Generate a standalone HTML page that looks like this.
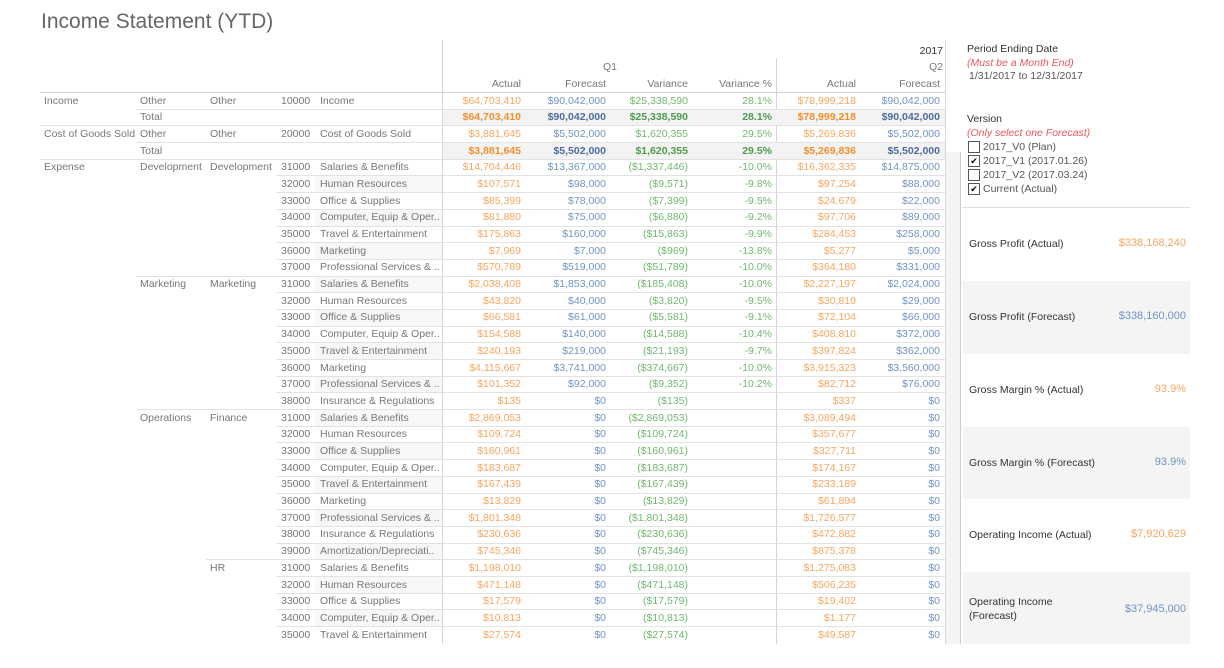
<!DOCTYPE html>
<html><head><meta charset="utf-8"><style>
body{margin:0;width:1224px;height:668px;background:#fff;font-family:"Liberation Sans",sans-serif;color:#777;overflow:hidden;position:relative}
.a{position:absolute;white-space:nowrap;font-size:10.5px;line-height:14px}
.r{text-align:right}
.hl{position:absolute;height:1px;background:#e2e2e2}
.vl{position:absolute;width:1px;background:#d6d6d6}
.or{color:#f5a661}.bl{color:#6f95c4}.gr{color:#72b86f}
.tot .or{color:#f28e2b}.tot .bl{color:#4c6c9e}.tot .gr{color:#4f9a4c}
.tot .r{font-weight:bold}
.card{position:absolute;left:963px;width:227px}
.cb{position:absolute;left:968px;width:10px;height:10px;border:1px solid #555;background:#fff;font-size:9px;line-height:10px;text-align:center;color:#000}
</style></head><body>
<div class="a" style="left:41px;top:8px;font-size:21px;line-height:28px;color:#666">Income Statement (YTD)</div>
<div class="vl" style="left:442px;top:40px;height:604px"></div>
<div class="vl" style="left:776px;top:58px;height:586px"></div>
<div class="vl" style="left:945px;top:40px;height:604px"></div>
<div class="vl" style="left:960px;top:152px;height:492px;background:#ccc"></div>
<div style="position:absolute;left:946px;top:152px;width:14px;height:492px;background:#f4f4f4"></div>
<div class="a r" style="left:880px;width:63px;top:44px;color:#333">2017</div>
<div class="a" style="left:603px;top:60px">Q1</div>
<div class="a r" style="left:900px;width:43px;top:60px">Q2</div>
<div id="tbl"></div>

<div class="a" style="left:967px;top:42px;color:#333">Period Ending Date</div>
<div class="a" style="left:967px;top:56px;color:#e8575f;font-style:italic">(Must be a Month End)</div>
<div class="a" style="left:969px;top:69px;color:#555">1/31/2017 to 12/31/2017</div>
<div class="a" style="left:967px;top:112px;color:#333">Version</div>
<div class="a" style="left:967px;top:126px;color:#e8575f;font-style:italic">(Only select one Forecast)</div>
<div class="cb" style="top:141px"></div><div class="a" style="left:983px;top:140px;color:#555">2017_V0 (Plan)</div>
<div class="cb" style="top:155px">✔</div><div class="a" style="left:983px;top:154px;color:#555">2017_V1 (2017.01.26)</div>
<div class="cb" style="top:169px"></div><div class="a" style="left:983px;top:168px;color:#555">2017_V2 (2017.03.24)</div>
<div class="cb" style="top:183px">✔</div><div class="a" style="left:983px;top:182px;color:#555">Current (Actual)</div>
<div class="hl" style="left:962px;top:207px;width:228px;background:#ddd"></div>
<div id="cards"></div>
<script>
const rows=[
["Income","Other","Other","10000","Income","$64,703,410","$90,042,000","$25,338,590","28.1%","$78,999,218","$90,042,000"],
["","Total","","","","$64,703,410","$90,042,000","$25,338,590","28.1%","$78,999,218","$90,042,000"],
["Cost of Goods Sold","Other","Other","20000","Cost of Goods Sold","$3,881,645","$5,502,000","$1,620,355","29.5%","$5,269,836","$5,502,000"],
["","Total","","","","$3,881,645","$5,502,000","$1,620,355","29.5%","$5,269,836","$5,502,000"],
["Expense","Development","Development","31000","Salaries & Benefits","$14,704,446","$13,367,000","($1,337,446)","-10.0%","$16,362,335","$14,875,000"],
["","","","32000","Human Resources","$107,571","$98,000","($9,571)","-9.8%","$97,254","$88,000"],
["","","","33000","Office & Supplies","$85,399","$78,000","($7,399)","-9.5%","$24,679","$22,000"],
["","","","34000","Computer, Equip & Oper..","$81,880","$75,000","($6,880)","-9.2%","$97,706","$89,000"],
["","","","35000","Travel & Entertainment","$175,863","$160,000","($15,863)","-9.9%","$284,453","$258,000"],
["","","","36000","Marketing","$7,969","$7,000","($969)","-13.8%","$5,277","$5,000"],
["","","","37000","Professional Services & ..","$570,789","$519,000","($51,789)","-10.0%","$364,180","$331,000"],
["","Marketing","Marketing","31000","Salaries & Benefits","$2,038,408","$1,853,000","($185,408)","-10.0%","$2,227,197","$2,024,000"],
["","","","32000","Human Resources","$43,820","$40,000","($3,820)","-9.5%","$30,810","$29,000"],
["","","","33000","Office & Supplies","$66,581","$61,000","($5,581)","-9.1%","$72,104","$66,000"],
["","","","34000","Computer, Equip & Oper..","$154,588","$140,000","($14,588)","-10.4%","$408,810","$372,000"],
["","","","35000","Travel & Entertainment","$240,193","$219,000","($21,193)","-9.7%","$397,824","$362,000"],
["","","","36000","Marketing","$4,115,667","$3,741,000","($374,667)","-10.0%","$3,915,323","$3,560,000"],
["","","","37000","Professional Services & ..","$101,352","$92,000","($9,352)","-10.2%","$82,712","$76,000"],
["","","","38000","Insurance & Regulations","$135","$0","($135)","","$337","$0"],
["","Operations","Finance","31000","Salaries & Benefits","$2,869,053","$0","($2,869,053)","","$3,089,494","$0"],
["","","","32000","Human Resources","$109,724","$0","($109,724)","","$357,677","$0"],
["","","","33000","Office & Supplies","$160,961","$0","($160,961)","","$327,711","$0"],
["","","","34000","Computer, Equip & Oper..","$183,687","$0","($183,687)","","$174,167","$0"],
["","","","35000","Travel & Entertainment","$167,439","$0","($167,439)","","$233,189","$0"],
["","","","36000","Marketing","$13,829","$0","($13,829)","","$61,894","$0"],
["","","","37000","Professional Services & ..","$1,801,348","$0","($1,801,348)","","$1,726,577","$0"],
["","","","38000","Insurance & Regulations","$230,636","$0","($230,636)","","$472,882","$0"],
["","","","39000","Amortization/Depreciati..","$745,346","$0","($745,346)","","$875,378","$0"],
["","","HR","31000","Salaries & Benefits","$1,198,010","$0","($1,198,010)","","$1,275,083","$0"],
["","","","32000","Human Resources","$471,148","$0","($471,148)","","$506,235","$0"],
["","","","33000","Office & Supplies","$17,579","$0","($17,579)","","$19,402","$0"],
["","","","34000","Computer, Equip & Oper..","$10,813","$0","($10,813)","","$1,177","$0"],
["","","","35000","Travel & Entertainment","$27,574","$0","($27,574)","","$49,587","$0"]
];
const colHeads=["Actual","Forecast","Variance","Variance %","Actual","Forecast"];
const cardLabels=["Gross Profit (Actual)","Gross Profit (Forecast)","Gross Margin % (Actual)","Gross Margin % (Forecast)","Operating Income (Actual)","Operating Income<br>(Forecast)"];
const cardValues=["$338,168,240","$338,160,000","93.9%","93.9%","$7,920,629","$37,945,000"];

const T=document.getElementById('tbl');
const valRight=[521,606,688,772,856,940];
const valCls=["or","bl","gr","gr","or","bl"];
let h='';
colHeads.forEach((c,i)=>{h+=`<div class="a r" style="left:${valRight[i]-80}px;width:80px;top:77px">${c}</div>`;});
h+=`<div class="hl" style="left:40px;top:92px;width:905px;background:#d0d0d0"></div>`;
const RH=16.69, top0=92;
rows.forEach((r,i)=>{
  const y=top0+i*RH;
  const tot=r[1]==="Total";
  if(tot) h+=`<div style="position:absolute;left:443px;top:${y+1}px;width:502px;height:${RH-1}px;background:#f3f3f3"></div>`;
  else if(i%2==1&&r[3]) h+=`<div style="position:absolute;left:315px;top:${y+1}px;width:127px;height:${RH-1}px;background:#f7f7f7"></div>`;
  let lx=r[0]?40:(r[1]?136:(r[2]?206:276));
  if(i>0) h+=`<div class="hl" style="left:${lx}px;top:${y}px;width:${945-lx}px"></div>`;
  h+=`<div class="${tot?'tot':''}">`;
  const xs=[44,140,210,281,320];
  for(let k=0;k<5;k++) if(r[k]) h+=`<div class="a" style="left:${xs[k]}px;top:${y+1.5}px">${r[k]}</div>`;
  for(let k=0;k<6;k++) if(r[5+k]) h+=`<div class="a r ${valCls[k]}" style="left:${valRight[k]-100}px;width:100px;top:${y+1.5}px">${r[5+k]}</div>`;
  h+=`</div>`;
});
T.innerHTML=h;
const C=document.getElementById('cards');
let c='';
const cardTop=[208,281,354,427,499,572], cardH=[73,73,73,72,73,72];
cardLabels.forEach((l,i)=>{
  const y=cardTop[i];
  const two=l.includes('<br>');
  c+=`<div class="card" style="top:${y}px;height:${cardH[i]}px;background:${i%2?'#f4f4f4':'#fff'}">
  <div class="a" style="left:6px;top:${two?23:29}px;color:#333;font-size:10.5px">${l}</div>
  <div class="a r ${i%2?'bl':'or'}" style="right:4px;top:${two?30:28}px;font-size:11px">${cardValues[i]}</div></div>`;
});
C.innerHTML=c;
</script>
</body></html>
